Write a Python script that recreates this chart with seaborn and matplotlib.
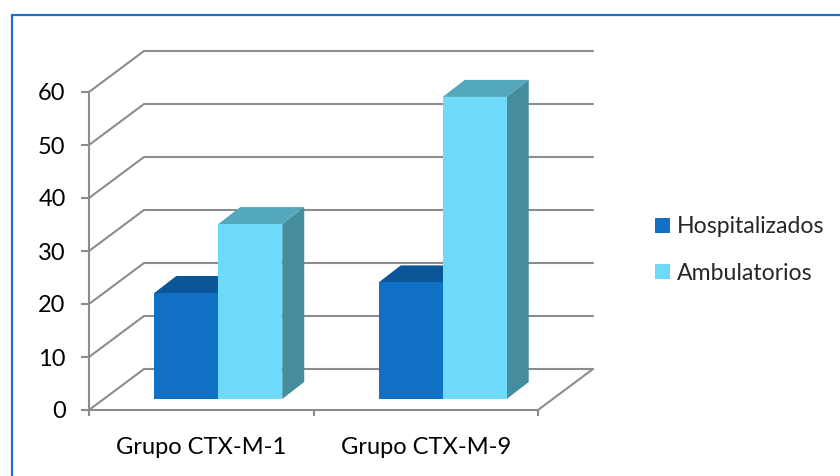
import matplotlib
matplotlib.use("Agg")
import matplotlib.pyplot as plt
import pandas as pd
import seaborn as sns
from matplotlib.patches import Polygon
from matplotlib.lines import Line2D

# Data
grupos = ["Grupo CTX-M-1", "Grupo CTX-M-9"]
tipos = ["Hospitalizados", "Ambulatorios"]
hospitalizados = [20, 22]
ambulatorios = [33, 57]
y_ticks = [0, 10, 20, 30, 40, 50, 60]

df = pd.DataFrame({
    "grupo": grupos * 2,
    "tipo": [tipos[0]] * len(grupos) + [tipos[1]] * len(grupos),
    "valor": hospitalizados + ambulatorios,
})

W, H = 840, 476
sns.set_style("white")
plt.rcParams["font.family"] = ["Lato", "DejaVu Sans"]
FS = 17.0
FS_LEG = 16.6
GRID = "#8C8C8C"

front_col = {"Hospitalizados": "#0F70C6", "Ambulatorios": "#6DDAF9"}
top_col = {"Hospitalizados": "#0B5599", "Ambulatorios": "#53A8BB"}
side_col = {"Hospitalizados": "#0A4F8C", "Ambulatorios": "#468C9F"}

fig = plt.figure(figsize=(W / 100, H / 100), dpi=100)
ax = fig.add_axes([89 / W, (H - 410) / H, (538 - 89) / W, (410 - 92) / H])

sns.barplot(data=df, x="grupo", y="valor", hue="tipo", order=grupos,
            hue_order=tipos, palette=front_col, width=0.57, saturation=1,
            linewidth=0, ax=ax)
ax.set_xlim(-0.5, 1.5)
ax.set_ylim(0, 60)

# pseudo-3D offsets in pixels (right, up)
WALL = (55, 41)
BAR_POS = (17, 11)
BAR_DEPTH = (22, 17)


def shift(x, y, dx, dy):
    px, py = ax.transData.transform((x, y))
    return tuple(ax.transData.inverted().transform((px + dx, py + dy)))


# back wall gridlines with their diagonal run from the front axis
for v in y_ticks:
    p1 = shift(-0.5, v, *WALL)
    p2 = shift(1.5, v, *WALL)
    ax.plot([-0.5, p1[0], p2[0]], [v, p1[1], p2[1]], color=GRID, lw=1.5,
            clip_on=False, zorder=1, solid_joinstyle="miter")
fr = shift(1.5, 0, *WALL)
ax.plot([1.5, fr[0]], [0, fr[1]], color=GRID, lw=1.5, clip_on=False, zorder=1)

# give each bar a top and a side face
for k, (tipo, cont) in enumerate(zip(tipos, ax.containers)):
    base = 3 + 3 * k
    for bar in cont:
        x, w, h = bar.get_x(), bar.get_width(), bar.get_height()
        nx, ny = shift(x, 0, *BAR_POS)
        bar.set_x(nx)
        bar.set_y(ny)
        bar.set_zorder(base + 2)
        bar.set_clip_on(False)
        x0, x1, y0, y1 = nx, nx + w, ny, ny + h
        top = [(x0, y1), (x1, y1), shift(x1, y1, *BAR_DEPTH), shift(x0, y1, *BAR_DEPTH)]
        ax.add_patch(Polygon(top, closed=True, facecolor=top_col[tipo],
                             edgecolor="none", zorder=base, clip_on=False))
        sidef = [(x1, y0), (x1, y1), shift(x1, y1, *BAR_DEPTH), shift(x1, y0, *BAR_DEPTH)]
        ax.add_patch(Polygon(sidef, closed=True, facecolor=side_col[tipo],
                             edgecolor="none", zorder=base + 1, clip_on=False))

# axes frame
for s in ["top", "right"]:
    ax.spines[s].set_visible(False)
for s in ["left", "bottom"]:
    ax.spines[s].set_color(GRID)
    ax.spines[s].set_linewidth(1.5)
    ax.spines[s].set_zorder(2)

ax.set_yticks(y_ticks)
ax.set_yticklabels([str(v) for v in y_ticks], fontsize=FS)
ax.set_xticks([0, 1])
ax.set_xticklabels(grupos, fontsize=FS)
ax.set_xticks([-0.5, 0.5, 1.5], minor=True)
ax.tick_params(axis="y", left=True, length=5.8, width=1.5, color=GRID,
               pad=11, direction="out", labelcolor="black")
ax.tick_params(axis="x", which="major", bottom=True, length=0, pad=19.5,
               labelcolor="black")
ax.tick_params(axis="x", which="minor", bottom=True, length=4.5, width=1.5,
               color=GRID, direction="out")
ax.set_xlabel("")
ax.set_ylabel("")
ax.grid(False)

handles, labels = ax.get_legend_handles_labels()
ax.legend(handles, labels, loc="center left",
          bbox_to_anchor=(646 / W, 1 - 250 / H), bbox_transform=fig.transFigure,
          frameon=False, fontsize=FS_LEG, handlelength=0.65, handleheight=0.65,
          handletextpad=0.3, labelspacing=1.1, borderaxespad=0)

# outer chart border
BORDER = "#1F6FC6"
fig.add_artist(Line2D([12 / W, 12 / W], [0, (H - 15) / H], color=BORDER, lw=1.6))
fig.add_artist(Line2D([12 / W, 1], [(H - 15) / H, (H - 15) / H], color=BORDER, lw=1.6))

fig.savefig("out.png", dpi=100, facecolor="white")
